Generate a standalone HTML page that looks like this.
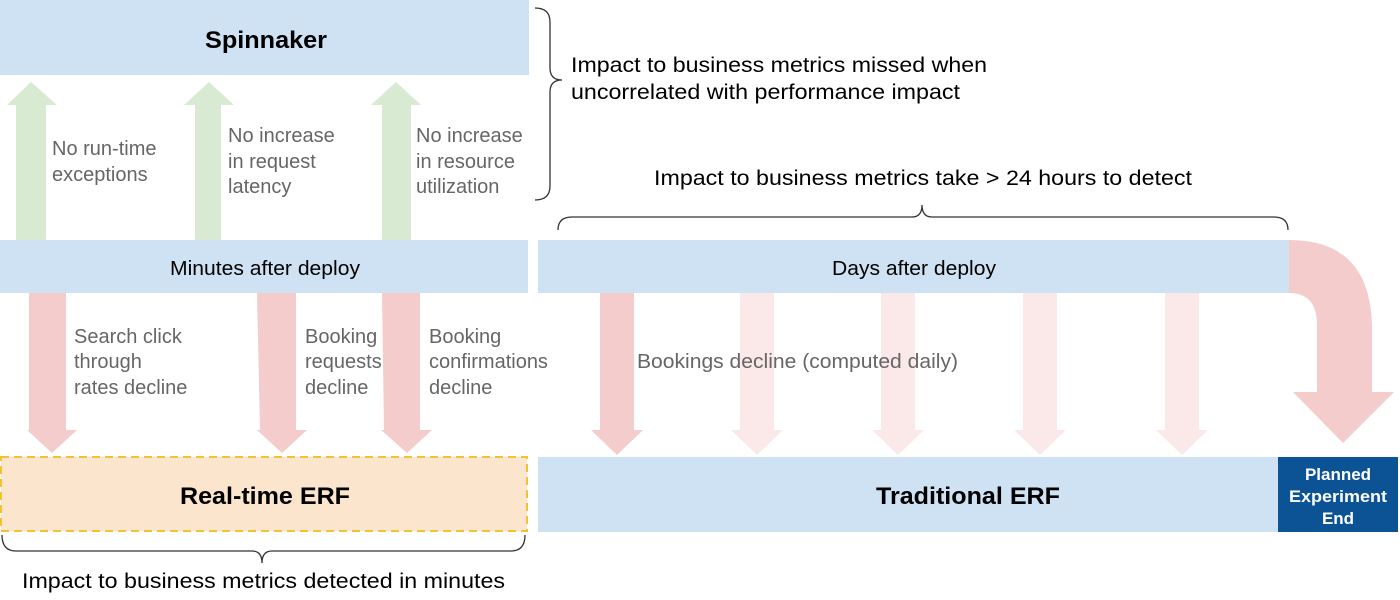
<!DOCTYPE html>
<html><head><meta charset="utf-8"><style>
html,body{margin:0;padding:0;background:#fff;width:1400px;height:600px;overflow:hidden}
svg{display:block;font-family:"Liberation Sans",Arial,sans-serif}
</style></head><body>
<svg width="1400" height="600" viewBox="0 0 1400 600" xmlns="http://www.w3.org/2000/svg">
<rect x="0" y="0" width="529" height="75" fill="#cfe2f3"/>
<text x="266" y="48" text-anchor="middle" font-size="24" font-weight="bold" fill="#000" textLength="122" lengthAdjust="spacingAndGlyphs">Spinnaker</text>
<g fill="#d9ead3">
<polygon points="16,240 16,105 7,105 31,82 57,105 46,105 46,240"/>
<polygon points="195,240 195,105 184,105 209,82 234,105 221,105 221,240"/>
<polygon points="382,240 382,105 371,105 396,82 421,105 411,105 411,240"/>
</g>
<g font-size="20" fill="#666">
<text x="52" y="155">No run-time</text><text x="52" y="181">exceptions</text>
<text x="228" y="142">No increase</text><text x="228" y="168">in request</text><text x="228" y="193">latency</text>
<text x="416" y="142">No increase</text><text x="416" y="168">in resource</text><text x="416" y="193">utilization</text>
</g>
<rect x="0" y="240" width="528" height="53" fill="#cfe2f3"/>
<text x="265" y="275" text-anchor="middle" font-size="20" fill="#000" textLength="190" lengthAdjust="spacingAndGlyphs">Minutes after deploy</text>
<rect x="538" y="240" width="752" height="53" fill="#cfe2f3"/>
<text x="914" y="275" text-anchor="middle" font-size="20" fill="#000" textLength="164" lengthAdjust="spacingAndGlyphs">Days after deploy</text>
<g fill="#f4cccc">
<polygon points="29,293 66,293 66,430 77,430 52,453 27,430 29,430"/>
<polygon points="257,293 296,293 296,430 307,430 282,453 257,430 260,430"/>
<polygon points="382,293 420,293 420,430 432,430 407,453 381,430 384,430"/>
<polygon points="600,293 634,293 634,430 643,430 617,455 591,430 600,430"/>
</g>
<g fill="#fbe9e9">
<polygon points="740,293 774,293 774,430 783,430 757,455 731,430 740,430"/>
<polygon points="881,293 915,293 915,430 924,430 898,455 872,430 881,430"/>
<polygon points="1023,293 1057,293 1057,430 1066,430 1040,455 1014,430 1023,430"/>
<polygon points="1165,293 1199,293 1199,430 1208,430 1182,455 1156,430 1165,430"/>
</g>
<path d="M1289,240 Q1372,240 1372,330 L1372,392 L1394,392 L1343,443 L1293,392 L1317,392 L1317,325 Q1317,293 1289,293 Z" fill="#f4cccc"/>
<g font-size="20" fill="#666">
<text x="74" y="343">Search click</text><text x="74" y="368">through</text><text x="74" y="394">rates decline</text>
<text x="305" y="343">Booking</text><text x="305" y="368">requests</text><text x="305" y="394">decline</text>
<text x="429" y="343">Booking</text><text x="429" y="368">confirmations</text><text x="429" y="394">decline</text>
<text x="637" y="368" textLength="321" lengthAdjust="spacingAndGlyphs">Bookings decline (computed daily)</text>
</g>
<rect x="1" y="457" width="526" height="74" fill="#fce5cd" stroke="#f1c232" stroke-width="2" stroke-dasharray="8,5"/>
<text x="265" y="504" text-anchor="middle" font-size="24" font-weight="bold" fill="#000" textLength="170" lengthAdjust="spacingAndGlyphs">Real-time ERF</text>
<rect x="538" y="457" width="740" height="75" fill="#cfe2f3"/>
<text x="968" y="504" text-anchor="middle" font-size="24" font-weight="bold" fill="#000" textLength="184" lengthAdjust="spacingAndGlyphs">Traditional ERF</text>
<rect x="1278" y="457" width="120" height="75" fill="#0b5394"/>
<g font-size="17" font-weight="bold" fill="#fff" text-anchor="middle">
<text x="1338" y="480">Planned</text><text x="1338" y="502" textLength="98" lengthAdjust="spacingAndGlyphs">Experiment</text><text x="1338" y="524">End</text>
</g>
<g fill="none" stroke="#333" stroke-width="1.3">
<path d="M535,8 Q550,8 550,22 L550,68 Q550,80 562,80 Q550,80 550,92 L550,186 Q550,200 535,200"/>
<path d="M558,230 Q558,217 572,217 L912,217 Q922,217 922,205 Q922,217 932,217 L1274,217 Q1288,217 1288,230"/>
<path d="M2,535 Q2,551 16,551 L252,551 Q262,551 262,563 Q262,551 272,551 L511,551 Q525,551 525,535"/>
</g>
<g font-size="21" fill="#000">
<text x="571" y="72" textLength="416" lengthAdjust="spacingAndGlyphs">Impact to business metrics missed when</text>
<text x="571" y="99" textLength="389" lengthAdjust="spacingAndGlyphs">uncorrelated with performance impact</text>
<text x="654" y="185" textLength="538" lengthAdjust="spacingAndGlyphs">Impact to business metrics take &gt; 24 hours to detect</text>
<text x="22" y="588" textLength="483" lengthAdjust="spacingAndGlyphs">Impact to business metrics detected in minutes</text>
</g>
</svg>
</body></html>
